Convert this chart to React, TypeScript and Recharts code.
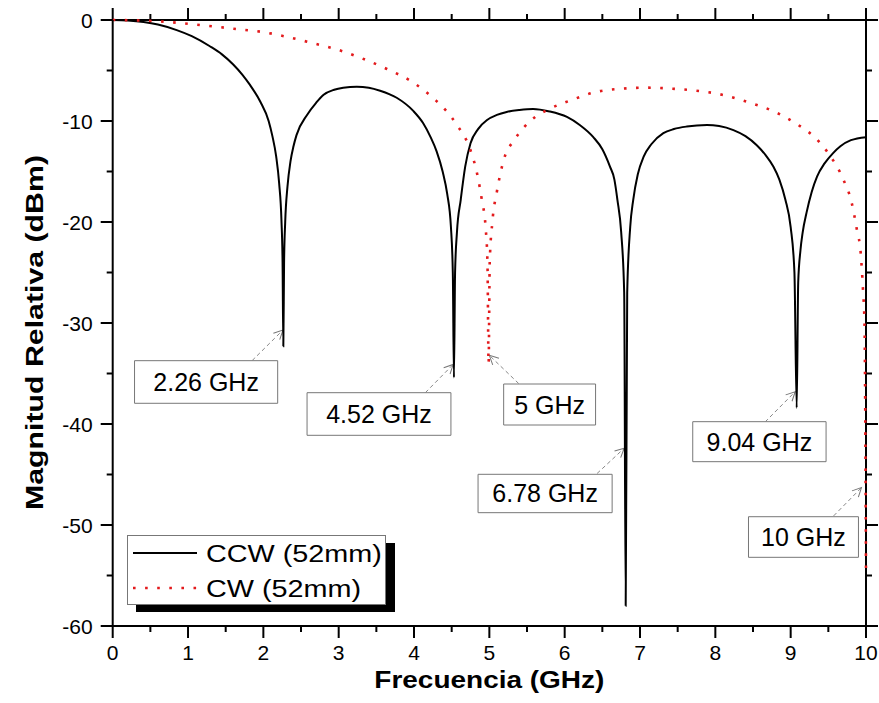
import { LineChart, Line, XAxis, YAxis, ReferenceArea, ReferenceLine, Legend } from 'recharts';

// CCW (52mm): [frecuencia GHz, magnitud dBm]
const ccwPoints: [number, number][] = [
  [0, 0], [0.2, -0.05], [0.41, -0.2], [0.6, -0.45], [0.85, -1.0], [1.05, -1.6],
  [1.29, -2.6], [1.45, -3.4], [1.6, -4.4], [1.72, -5.4], [1.82, -6.4], [1.96, -8.1],
  [2.07, -10.0], [2.12, -11.5], [2.17, -13.5], [2.21, -16.2], [2.24, -19.8], [2.255, -24],
  [2.265, -32.3], [2.275, -24], [2.29, -20], [2.32, -16.5], [2.36, -14], [2.4, -12.5],
  [2.44, -11.4], [2.58, -9.4], [2.7, -8.2], [2.8, -7.4], [2.94, -6.9], [3.06, -6.7],
  [3.24, -6.6], [3.4, -6.7], [3.55, -7.0], [3.77, -7.7], [3.99, -9.0], [4.12, -10.2],
  [4.22, -11.6], [4.3, -13.0], [4.38, -15.0], [4.44, -17.2], [4.49, -20.5], [4.515, -25],
  [4.53, -35.4], [4.545, -25], [4.57, -21], [4.62, -17.8], [4.68, -14.5], [4.75, -12.2],
  [4.85, -10.8], [4.97, -9.9], [5.1, -9.4], [5.23, -9.1], [5.4, -8.9], [5.58, -8.8],
  [5.8, -9.05], [6.03, -9.6], [6.2, -10.4], [6.38, -11.6], [6.5, -12.8], [6.6, -14.5],
  [6.66, -15.8], [6.7, -17.8], [6.75, -21], [6.79, -27], [6.81, -58], [6.83, -27],
  [6.87, -20.5], [6.91, -17.8], [6.97, -15.3], [7.05, -13.5], [7.15, -12.3], [7.31, -11.2],
  [7.45, -10.8], [7.62, -10.55], [7.89, -10.4], [8.05, -10.5], [8.24, -10.9], [8.4, -11.5],
  [8.55, -12.4], [8.67, -13.4], [8.77, -14.5], [8.85, -15.8], [8.93, -17.8], [9.0, -20.5],
  [9.05, -25], [9.08, -38.4], [9.1, -26], [9.13, -22.8], [9.16, -21], [9.21, -19.1],
  [9.28, -17], [9.35, -15.5], [9.45, -14.2], [9.56, -13.2], [9.66, -12.5], [9.8, -11.9],
  [10, -11.6],
];

// CW (52mm)
const cwPoints: [number, number][] = [
  [0, 0], [0.54, -0.1], [1.16, -0.5], [1.65, -0.9], [2.0, -1.2], [2.33, -1.7],
  [2.66, -2.3], [2.97, -2.9], [3.31, -3.8], [3.64, -4.85], [3.97, -6.1], [4.28, -7.9],
  [4.44, -9.1], [4.57, -10.4], [4.75, -12.9], [4.84, -15.3], [4.9, -17.8], [4.95, -20.5],
  [4.975, -24], [4.99, -34], [5.005, -24], [5.04, -20], [5.1, -17], [5.21, -13.4],
  [5.32, -12], [5.45, -10.7], [5.61, -9.6], [5.77, -8.9], [6.1, -7.9], [6.43, -7.1],
  [6.76, -6.8], [7.09, -6.7], [7.42, -6.8], [7.75, -7.0], [8.09, -7.4], [8.42, -8.1],
  [8.73, -8.9], [9.06, -10.2], [9.37, -12], [9.51, -13.3], [9.7, -15.8], [9.81, -18.1],
  [9.88, -20.8], [9.93, -23.1], [9.96, -26.7], [9.98, -30], [10, -54.5],
];

const freqTicks = [0, 0.5, 1, 1.5, 2, 2.5, 3, 3.5, 4, 4.5, 5, 5.5, 6, 6.5, 7, 7.5, 8, 8.5, 9, 9.5, 10];
const levelTicks = [-60, -55, -50, -45, -40, -35, -30, -25, -20, -15, -10, -5, 0];

// etiquetas de los nulos: caja [x1, x2, y1, y2] y flecha desde -> hasta
const notes = [
  { text: '2.26 GHz', box: [0.29, 2.19, -37.95, -33.73], from: [1.85, -33.73], to: [2.26, -30.7] },
  { text: '4.52 GHz', box: [2.58, 4.49, -41.12, -36.9], from: [4.15, -36.9], to: [4.52, -34.1] },
  { text: '5 GHz', box: [5.19, 6.41, -40.1, -36.04], from: [5.39, -36.0], to: [5.0, -33.2] },
  { text: '6.78 GHz', box: [4.85, 6.63, -48.78, -44.98], from: [6.43, -44.9], to: [6.79, -42.4] },
  { text: '9.04 GHz', box: [7.7, 9.47, -43.73, -39.77], from: [8.66, -39.8], to: [9.06, -36.8] },
  { text: '10 GHz', box: [8.44, 9.9, -53.2, -49.18], from: [9.57, -49.1], to: [9.94, -46.3] },
];

const ccwData = ccwPoints.map(([f, db]) => ({ f, db }));
const cwData = cwPoints.map(([f, db]) => ({ f, db }));

const W = 879;
const H = 703;
const MARGIN = { top: 20, right: 13, bottom: 17, left: 12.7 };
const X_AXIS_H = 60;
const Y_AXIS_W = 100;
const X_MIN = 0;
const X_MAX = 10;
const Y_MIN = -60;
const Y_MAX = 0;
// pixeles por unidad, para pasar el largo de las marcas a unidades de datos
const PX_PER_GHZ = (W - MARGIN.left - MARGIN.right - Y_AXIS_W) / (X_MAX - X_MIN);
const PX_PER_DB = (H - MARGIN.top - MARGIN.bottom - X_AXIS_H) / (Y_MAX - Y_MIN);
const MAJOR = 12;
const MINOR = 6;

const isMajorF = (f: number) => f % 1 === 0;
const isMajorDb = (v: number) => v % 10 === 0;
const majorFreqTicks = freqTicks.filter(isMajorF);
const majorLevelTicks = levelTicks.filter(isMajorDb);

// marcas menores abajo/izquierda y todas arriba/derecha (marco de Origin)
const frameTicks = [
  ...freqTicks.flatMap((f) => {
    const d = (isMajorF(f) ? MAJOR : MINOR) / PX_PER_DB;
    const out = [{ key: 't' + f, a: { x: f, y: Y_MAX }, b: { x: f, y: Y_MAX + d } }];
    if (!isMajorF(f)) out.push({ key: 'b' + f, a: { x: f, y: Y_MIN }, b: { x: f, y: Y_MIN - d } });
    return out;
  }),
  ...levelTicks.flatMap((v) => {
    const d = (isMajorDb(v) ? MAJOR : MINOR) / PX_PER_GHZ;
    const out = [{ key: 'r' + v, a: { x: X_MAX, y: v }, b: { x: X_MAX + d, y: v } }];
    if (!isMajorDb(v)) out.push({ key: 'l' + v, a: { x: X_MIN, y: v }, b: { x: X_MIN - d, y: v } });
    return out;
  }),
];

function BottomTick(props: any) {
  const { x, y, payload } = props;
  return (
    <text x={x} y={y + 22} textAnchor="middle" fontSize={21} fill="#000" stroke="none">
      {payload.value}
    </text>
  );
}

function LeftTick(props: any) {
  const { x, y, payload } = props;
  return (
    <text x={x - 8} y={y + 7.5} textAnchor="end" fontSize={21} fill="#000" stroke="none">
      {payload.value}
    </text>
  );
}

function NoteLabel(props: any) {
  const vb = props.viewBox;
  return (
    <text x={vb.x + vb.width / 2} y={vb.y + vb.height / 2 + 9} textAnchor="middle" fontSize={25} fill="#000">
      {props.value}
    </text>
  );
}

function LegendBox(props: any) {
  const items = (props.payload || []).filter((p: any) => p.type !== 'none');
  return (
    <svg width={272} height={80} style={{ display: 'block' }}>
      <rect x={9} y={8} width={259} height={69} fill="#000" />
      <rect x={0.5} y={0.5} width={258} height={69} fill="#fff" stroke="#777" strokeWidth={1} />
      {items.map((it: any, i: number) => {
        const cy = 18 + i * 35;
        return (
          <g key={it.value}>
            <line
              x1={6}
              x2={70}
              y1={cy}
              y2={cy}
              stroke={it.color}
              strokeWidth={it.payload?.strokeWidth ?? 2}
              strokeDasharray={it.payload?.strokeDasharray}
            />
            <text transform={`translate(79,${cy + 9}) scale(1.2,1)`} fontSize={24} fill="#000">
              {it.value}
            </text>
          </g>
        );
      })}
    </svg>
  );
}

export default function App() {
  return (
    <div style={{ position: 'absolute', left: 0, top: 0, fontFamily: "'Liberation Sans', Arial, sans-serif" }}>
      <LineChart width={W} height={H} margin={MARGIN}>
        <defs>
          <marker id="arrowOpen" markerWidth="12" markerHeight="12" refX="10" refY="6" orient="auto" markerUnits="userSpaceOnUse">
            <path d="M1,1.5 L10,6 L1,10.5" fill="none" stroke="#777" strokeWidth="1" />
          </marker>
        </defs>
        <XAxis
          dataKey="f"
          type="number"
          domain={[X_MIN, X_MAX]}
          ticks={majorFreqTicks}
          interval={0}
          height={X_AXIS_H}
          tickSize={MAJOR}
          tickMargin={0}
          tickLine={{ stroke: '#000', strokeWidth: 2 }}
          axisLine={{ stroke: '#000', strokeWidth: 2 }}
          tick={<BottomTick />}
          label={(p: any) => {
            const vb = p.viewBox;
            return (
              <text
                x={vb.x + vb.width / 2}
                y={vb.y + 62}
                textAnchor="middle"
                fontWeight="bold"
                fontSize={24}
                textLength={230}
                lengthAdjust="spacingAndGlyphs"
                fill="#000"
              >
                Frecuencia (GHz)
              </text>
            );
          }}
        />
        <YAxis
          type="number"
          domain={[Y_MIN, Y_MAX]}
          ticks={majorLevelTicks}
          interval={0}
          width={Y_AXIS_W}
          tickSize={MAJOR}
          tickMargin={0}
          tickLine={{ stroke: '#000', strokeWidth: 2 }}
          axisLine={{ stroke: '#000', strokeWidth: 2 }}
          tick={<LeftTick />}
          label={(p: any) => {
            const vb = p.viewBox;
            const cx = vb.x + 30;
            const cy = vb.y + vb.height / 2 + 9.5;
            return (
              <text
                transform={`translate(${cx},${cy}) rotate(-90)`}
                textAnchor="middle"
                fontWeight="bold"
                fontSize={23}
                textLength={355}
                lengthAdjust="spacingAndGlyphs"
                fill="#000"
              >
                Magnitud Relativa (dBm)
              </text>
            );
          }}
        />
        {/* lineas superior y derecha del marco */}
        <ReferenceLine y={Y_MAX} stroke="#000" strokeWidth={2} ifOverflow="visible" />
        <ReferenceLine x={X_MAX} stroke="#000" strokeWidth={2} ifOverflow="visible" />
        {frameTicks.map((t) => (
          <ReferenceLine key={t.key} segment={[t.a, t.b]} stroke="#000" strokeWidth={2} ifOverflow="visible" />
        ))}
        <Legend
          layout="vertical"
          align="center"
          verticalAlign="middle"
          wrapperStyle={{ left: 127, top: 535, bottom: 'auto', width: 272, height: 80 }}
          content={<LegendBox />}
        />
        {notes.map((n) => (
          <ReferenceArea
            key={'box' + n.text}
            x1={n.box[0]}
            x2={n.box[1]}
            y1={n.box[2]}
            y2={n.box[3]}
            fill="#fff"
            fillOpacity={1}
            stroke="#777"
            strokeWidth={1}
            ifOverflow="visible"
            label={<NoteLabel value={n.text} />}
          />
        ))}
        {notes.map((n) => (
          <ReferenceLine
            key={'arrow' + n.text}
            segment={[
              { x: n.from[0], y: n.from[1] },
              { x: n.to[0], y: n.to[1] },
            ]}
            stroke="#888"
            strokeWidth={1}
            strokeDasharray="4 3"
            markerEnd="url(#arrowOpen)"
            ifOverflow="visible"
          />
        ))}
        <Line
          name="CCW (52mm)"
          data={ccwData}
          dataKey="db"
          type="monotone"
          stroke="#000"
          strokeWidth={2}
          dot={false}
          activeDot={false}
          isAnimationActive={false}
        />
        <Line
          name="CW (52mm)"
          data={cwData}
          dataKey="db"
          type="monotone"
          stroke="#e31a1c"
          strokeWidth={2.6}
          strokeDasharray="2.6 9.5"
          dot={false}
          activeDot={false}
          isAnimationActive={false}
        />
      </LineChart>
    </div>
  );
}
